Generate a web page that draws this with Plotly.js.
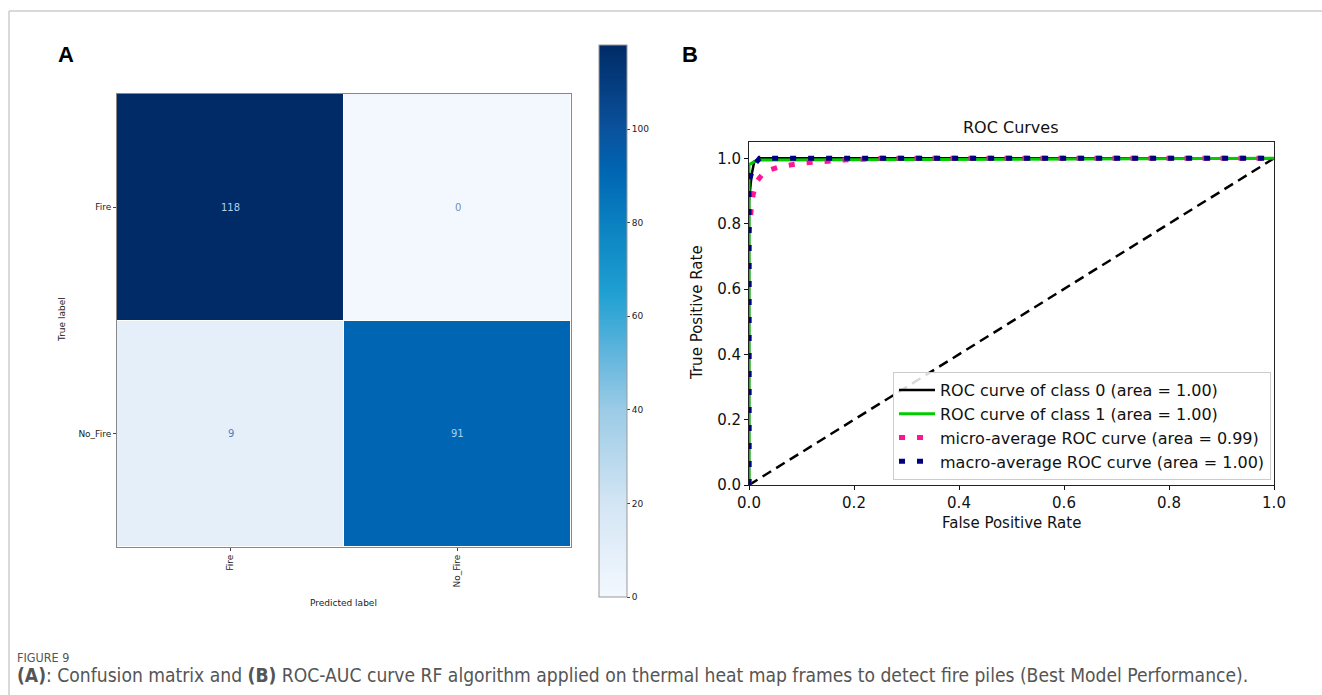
<!DOCTYPE html>
<html>
<head>
<meta charset="utf-8">
<script src="https://cdn.plot.ly/plotly-3.0.1.min.js"></script>
<style>html,body{margin:0;padding:0;background:#fff;}#chart{width:1322px;height:695px;}</style>
</head>
<body>
<div id="chart"></div>
<script>
// ---- Panel A: confusion matrix ----
var cmLabels = ['Fire', 'No_Fire'];
var cmRow0 = [118, 0];
var cmRow1 = [9, 91];
var cmTickVals = [0, 20, 40, 60, 80, 100];

// ---- Panel B: ROC curves ----
var class0X = [0, 0, 0.005, 0.01, 0.02, 1];
var class0Y = [0, 0.87, 0.95, 0.99, 1.0, 1.0];
var class1X = [0, 0, 0.01, 0.02, 1];
var class1Y = [0, 0.98, 0.99, 0.995, 1.0];
var microX = [0, 0, 0.004, 0.008, 0.015, 0.03, 0.06, 0.1, 0.18, 0.25, 1];
var microY = [0, 0.77, 0.84, 0.89, 0.93, 0.96, 0.975, 0.985, 0.995, 1.0, 1.0];
var macroX = [0, 0, 0.01, 0.02, 1];
var macroY = [0, 0.93, 0.98, 1.0, 1.0];
var chanceX = [0, 1];
var chanceY = [0, 1];
var rocTicks = [0, 0.2, 0.4, 0.6, 0.8, 1.0];
var legendNames = ['ROC curve of class 0 (area = 1.00)', 'ROC curve of class 1 (area = 1.00)',
  'micro-average ROC curve (area = 0.99)', 'macro-average ROC curve (area = 1.00)'];

var captionText = '<b>(A)</b>: Confusion matrix and <b>(B)</b> ROC-AUC curve RF algorithm applied on thermal heat map frames to detect fire piles (Best Model Performance).';

var W = 1322, H = 695;
function px(x){ return x / W; }
function py(y){ return 1 - y / H; }

// fit caption font size to the reference line width
var capFamily = 'DejaVu Sans Condensed, Liberation Sans Narrow, Open Sans';
function fitSize(html, family, targetW) {
  var plain = html.replace(/<[^>]+>/g, '');
  var cv = document.createElement('canvas').getContext('2d');
  cv.font = '100px ' + family.split(',').map(function(s){ return '"' + s.trim() + '"'; }).join(',');
  var w = cv.measureText(plain).width;
  return Math.max(12, Math.min(20, 100 * targetW / w));
}
var capSize = fitSize(captionText, capFamily, 1225);

var cmZ = [cmRow0, cmRow1];
var blues = [
  [0.0, '#f3f8fe'], [0.17, '#d3e5f4'], [0.34, '#9bcbe6'], [0.45, '#5bb3dc'],
  [0.55, '#1fa0d2'], [0.68, '#0a80c0'], [0.77, '#0066b3'], [0.85, '#0a519c'], [1.0, '#002b66']
];

var traces = [];
traces.push({
  type: 'heatmap', x: cmLabels, y: cmLabels, z: cmZ, xaxis: 'x', yaxis: 'y',
  zmin: 0, zmax: 118, colorscale: blues, showscale: true, xgap: 1, ygap: 1,
  hoverinfo: 'skip',
  colorbar: {
    x: px(599), xanchor: 'left', y: py(597), yanchor: 'bottom',
    len: (597 - 45) / H, lenmode: 'fraction', thickness: 28, thicknessmode: 'pixels',
    xpad: 0, ypad: 0, outlinecolor: '#999', outlinewidth: 1,
    tickvals: cmTickVals, ticks: 'outside', ticklen: 3, tickcolor: '#444',
    tickfont: {size: 9, family: 'DejaVu Sans', color: '#222'}
  }
});

var lineDefs = [
  {x: chanceX, y: chanceY, color: 'black', width: 2.5, dash: '10px,6px', show: false, name: 'chance'},
  {x: class0X, y: class0Y, color: 'black', width: 2.5, dash: 'solid', show: true, name: legendNames[0]},
  {x: class1X, y: class1Y, color: '#00cc00', width: 3, dash: 'solid', show: true, name: legendNames[1]},
  {x: microX, y: microY, color: '#ff1493', width: 5, dash: '6px,12px', show: true, name: legendNames[2]},
  {x: macroX, y: macroY, color: '#000080', width: 5, dash: '6px,12px', show: true, name: legendNames[3]}
];
lineDefs.forEach(function(d){
  traces.push({
    type: 'scatter', mode: 'lines', x: d.x, y: d.y, xaxis: 'x2', yaxis: 'y2',
    name: d.name, showlegend: d.show, hoverinfo: 'skip',
    line: {color: d.color, width: d.width, dash: d.dash}
  });
});

function note(x, y, text, size, opts) {
  var a = {xref: 'paper', yref: 'paper', x: px(x), y: py(y), text: text, showarrow: false,
    xanchor: 'center', yanchor: 'middle', font: {size: size, family: 'DejaVu Sans', color: '#111'}};
  for (var k in (opts || {})) a[k] = opts[k];
  return a;
}

var annotations = [];
var cellColors = [['#b0d0ee', '#6f8fb8'], ['#4f7fc0', '#a8d0f0']];
for (var r = 0; r < 2; r++) {
  for (var c = 0; c < 2; c++) {
    annotations.push({
      xref: 'x', yref: 'y', x: cmLabels[c], y: cmLabels[r], text: String(cmZ[r][c]),
      showarrow: false, font: {size: 10, family: 'DejaVu Sans', color: cellColors[r][c]}
    });
  }
}
annotations.push(
  note(343, 603, 'Predicted label', 9, {font: {size: 9, family: 'DejaVu Sans', color: '#222'}}),
  note(62, 320, 'True label', 9, {textangle: -90, font: {size: 9, family: 'DejaVu Sans', color: '#222'}}),
  note(66, 55, '<b>A</b>', 22, {font: {size: 22, family: 'Liberation Sans, Arial', color: '#000'}}),
  note(690, 55, '<b>B</b>', 22, {font: {size: 22, family: 'Liberation Sans, Arial', color: '#000'}}),
  note(1011, 127, 'ROC Curves', 16),
  note(1011, 523, 'False Positive Rate', 15),
  note(697, 313, 'True Positive Rate', 15, {textangle: -90}),
  note(15, 657, 'FIGURE 9', 12.5, {xanchor: 'left', font: {size: 12.5, family: capFamily, color: '#555'}}),
  note(15, 675, captionText, capSize, {xanchor: 'left', font: {size: capSize, family: capFamily, color: '#555'}})
);

var layout = {
  width: W, height: H, margin: {l: 0, r: 0, t: 0, b: 0},
  paper_bgcolor: '#fff', plot_bgcolor: '#fff', showlegend: true,
  font: {family: 'DejaVu Sans', color: '#111'},
  xaxis: {
    domain: [px(117), px(571)], anchor: 'y', type: 'category',
    tickangle: -90, ticks: 'outside', ticklen: 3, tickcolor: '#444',
    tickfont: {size: 9, family: 'DejaVu Sans', color: '#222'},
    showline: true, mirror: true, linecolor: '#888', linewidth: 1, showgrid: false, zeroline: false
  },
  yaxis: {
    domain: [py(547), py(94)], anchor: 'x', type: 'category', autorange: 'reversed',
    ticks: 'outside', ticklen: 3, tickcolor: '#444',
    tickfont: {size: 9, family: 'DejaVu Sans', color: '#222'},
    showline: true, mirror: true, linecolor: '#888', linewidth: 1, showgrid: false, zeroline: false
  },
  xaxis2: {
    domain: [px(749), px(1274)], anchor: 'y2', range: [0, 1], tickvals: rocTicks, tickformat: '.1f',
    ticks: 'outside', ticklen: 4, tickcolor: '#111',
    tickfont: {size: 15, family: 'DejaVu Sans', color: '#111'},
    showline: true, mirror: true, linecolor: '#222', linewidth: 1, showgrid: false, zeroline: false
  },
  yaxis2: {
    domain: [py(485), py(142)], anchor: 'x2', range: [0, 1.05], tickvals: rocTicks, tickformat: '.1f',
    ticks: 'outside', ticklen: 4, tickcolor: '#111',
    tickfont: {size: 15, family: 'DejaVu Sans', color: '#111'},
    showline: true, mirror: true, linecolor: '#222', linewidth: 1, showgrid: false, zeroline: false
  },
  legend: {
    x: px(1271), xanchor: 'right', y: py(480), yanchor: 'bottom',
    bgcolor: 'rgba(255,255,255,0.85)', bordercolor: '#ccc', borderwidth: 1,
    font: {size: 16, family: 'DejaVu Sans', color: '#111'}, itemwidth: 36, tracegroupgap: 0
  },
  annotations: annotations,
  shapes: [
    {type: 'line', xref: 'paper', yref: 'paper', x0: px(9), x1: 1.01, y0: py(11), y1: py(11),
     line: {color: '#ccc', width: 1.5}},
    {type: 'line', xref: 'paper', yref: 'paper', x0: px(9), x1: px(9), y0: py(11), y1: -0.01,
     line: {color: '#ccc', width: 1.5}}
  ]
};

Plotly.newPlot('chart', traces, layout, {displayModeBar: false, staticPlot: true});
</script>
</body>
</html>
